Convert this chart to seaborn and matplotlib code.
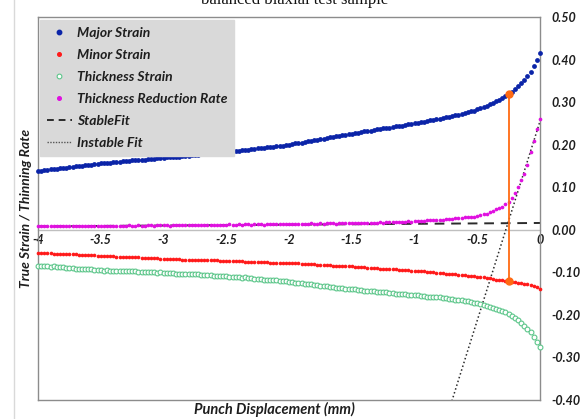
import numpy as np
import pandas as pd
import seaborn as sns
import matplotlib.pyplot as plt
from matplotlib.lines import Line2D
from matplotlib.patches import Rectangle

# ------------------------------
# data
# ------------------------------
# punch displacement (mm): one reading every 0.025 mm from -4 to 0
displacement = np.linspace(-4.0, 0.0, 161)

major_strain = [
    0.138, 0.139, 0.140, 0.141, 0.142, 0.142, 0.143, 0.144, 0.145, 0.146,
    0.147, 0.148, 0.149, 0.150, 0.151, 0.152, 0.153, 0.153, 0.154, 0.155,
    0.156, 0.157, 0.157, 0.158, 0.159, 0.159, 0.160, 0.161, 0.161, 0.162,
    0.163, 0.163, 0.164, 0.165, 0.165, 0.166, 0.167, 0.167, 0.168, 0.168,
    0.169, 0.170, 0.170, 0.171, 0.172, 0.172, 0.173, 0.174, 0.174, 0.175,
    0.176, 0.176, 0.177, 0.178, 0.178, 0.179, 0.180, 0.180, 0.181, 0.181,
    0.182, 0.183, 0.184, 0.185, 0.186, 0.187, 0.187, 0.188, 0.189, 0.190,
    0.191, 0.192, 0.193, 0.194, 0.195, 0.195, 0.196, 0.197, 0.198, 0.199,
    0.200, 0.201, 0.203, 0.204, 0.205, 0.207, 0.208, 0.209, 0.210, 0.212,
    0.213, 0.214, 0.216, 0.217, 0.218, 0.220, 0.221, 0.222, 0.223, 0.225,
    0.226, 0.227, 0.228, 0.230, 0.231, 0.232, 0.233, 0.234, 0.236, 0.237,
    0.238, 0.239, 0.240, 0.242, 0.243, 0.244, 0.245, 0.246, 0.248, 0.249,
    0.250, 0.251, 0.253, 0.254, 0.256, 0.257, 0.258, 0.260, 0.261, 0.263,
    0.264, 0.266, 0.267, 0.269, 0.270, 0.272, 0.274, 0.276, 0.278, 0.280,
    0.283, 0.286, 0.289, 0.292, 0.296, 0.299, 0.302, 0.306, 0.310, 0.314,
    0.318, 0.324, 0.330, 0.337, 0.344, 0.352, 0.361, 0.371, 0.384, 0.398,
    0.415,
]

minor_strain = [
    -0.054, -0.054, -0.055, -0.055, -0.055, -0.056, -0.056, -0.056, -0.057, -0.057,
    -0.058, -0.058, -0.058, -0.059, -0.059, -0.059, -0.060, -0.060, -0.060, -0.061,
    -0.061, -0.061, -0.062, -0.062, -0.062, -0.063, -0.063, -0.063, -0.064, -0.064,
    -0.065, -0.065, -0.065, -0.066, -0.066, -0.066, -0.067, -0.067, -0.067, -0.068,
    -0.068, -0.068, -0.069, -0.069, -0.069, -0.069, -0.070, -0.070, -0.070, -0.070,
    -0.071, -0.071, -0.071, -0.071, -0.072, -0.072, -0.072, -0.072, -0.073, -0.073,
    -0.073, -0.073, -0.074, -0.074, -0.074, -0.074, -0.075, -0.075, -0.075, -0.075,
    -0.076, -0.076, -0.076, -0.076, -0.077, -0.077, -0.077, -0.077, -0.078, -0.078,
    -0.078, -0.078, -0.079, -0.079, -0.080, -0.080, -0.080, -0.081, -0.081, -0.082,
    -0.082, -0.082, -0.083, -0.083, -0.084, -0.084, -0.084, -0.085, -0.085, -0.086,
    -0.086, -0.087, -0.087, -0.088, -0.088, -0.089, -0.089, -0.090, -0.090, -0.091,
    -0.091, -0.092, -0.092, -0.093, -0.093, -0.094, -0.094, -0.095, -0.095, -0.096,
    -0.096, -0.097, -0.097, -0.098, -0.099, -0.100, -0.100, -0.101, -0.102, -0.102,
    -0.103, -0.104, -0.104, -0.105, -0.106, -0.107, -0.107, -0.108, -0.109, -0.109,
    -0.110, -0.111, -0.112, -0.113, -0.114, -0.115, -0.117, -0.118, -0.119, -0.120,
    -0.121, -0.122, -0.123, -0.124, -0.125, -0.127, -0.128, -0.130, -0.132, -0.135,
    -0.139,
]

thickness_strain = [
    -0.084, -0.085, -0.085, -0.086, -0.087, -0.086, -0.087, -0.088, -0.088, -0.089,
    -0.089, -0.090, -0.091, -0.091, -0.092, -0.093, -0.093, -0.093, -0.094, -0.094,
    -0.095, -0.096, -0.095, -0.096, -0.097, -0.096, -0.097, -0.098, -0.097, -0.098,
    -0.098, -0.098, -0.099, -0.099, -0.099, -0.100, -0.100, -0.100, -0.101, -0.100,
    -0.101, -0.102, -0.101, -0.102, -0.103, -0.103, -0.103, -0.104, -0.104, -0.105,
    -0.105, -0.105, -0.106, -0.107, -0.106, -0.107, -0.108, -0.108, -0.108, -0.108,
    -0.109, -0.110, -0.110, -0.111, -0.112, -0.113, -0.112, -0.113, -0.114, -0.115,
    -0.115, -0.116, -0.117, -0.118, -0.118, -0.118, -0.119, -0.120, -0.120, -0.121,
    -0.122, -0.123, -0.124, -0.125, -0.125, -0.127, -0.128, -0.128, -0.129, -0.130,
    -0.131, -0.132, -0.133, -0.134, -0.134, -0.136, -0.137, -0.137, -0.138, -0.139,
    -0.140, -0.140, -0.141, -0.142, -0.143, -0.143, -0.144, -0.144, -0.146, -0.146,
    -0.147, -0.147, -0.148, -0.149, -0.150, -0.150, -0.151, -0.151, -0.153, -0.153,
    -0.154, -0.154, -0.156, -0.156, -0.157, -0.157, -0.158, -0.159, -0.159, -0.161,
    -0.161, -0.162, -0.163, -0.164, -0.164, -0.165, -0.167, -0.168, -0.169, -0.171,
    -0.173, -0.175, -0.177, -0.179, -0.182, -0.184, -0.185, -0.188, -0.191, -0.194,
    -0.197, -0.202, -0.207, -0.213, -0.219, -0.225, -0.233, -0.241, -0.252, -0.263,
    -0.276,
]

thinning_rate = [
    0.008, 0.009, 0.008, 0.008, 0.009, 0.008, 0.009, 0.009, 0.008, 0.009,
    0.009, 0.009, 0.008, 0.009, 0.009, 0.010, 0.009, 0.009, 0.009, 0.010,
    0.009, 0.010, 0.009, 0.010, 0.010, 0.009, 0.010, 0.010, 0.010, 0.011,
    0.010, 0.010, 0.011, 0.010, 0.010, 0.011, 0.011, 0.010, 0.011, 0.011,
    0.011, 0.011, 0.010, 0.011, 0.011, 0.012, 0.011, 0.011, 0.011, 0.012,
    0.011, 0.012, 0.012, 0.011, 0.012, 0.012, 0.012, 0.011, 0.012, 0.012,
    0.012, 0.013, 0.012, 0.012, 0.013, 0.012, 0.013, 0.013, 0.012, 0.013,
    0.013, 0.013, 0.012, 0.013, 0.013, 0.014, 0.013, 0.013, 0.013, 0.014,
    0.013, 0.014, 0.014, 0.013, 0.014, 0.014, 0.014, 0.015, 0.014, 0.014,
    0.015, 0.014, 0.015, 0.015, 0.015, 0.014, 0.015, 0.015, 0.016, 0.015,
    0.016, 0.015, 0.016, 0.016, 0.017, 0.016, 0.017, 0.017, 0.017, 0.018,
    0.017, 0.018, 0.018, 0.018, 0.019, 0.018, 0.019, 0.019, 0.020, 0.019,
    0.020, 0.020, 0.021, 0.021, 0.022, 0.023, 0.022, 0.023, 0.024, 0.024,
    0.025, 0.026, 0.026, 0.027, 0.027, 0.028, 0.029, 0.030, 0.030, 0.031,
    0.033, 0.035, 0.036, 0.038, 0.042, 0.045, 0.048, 0.050, 0.054, 0.060,
    0.066, 0.074, 0.086, 0.100, 0.116, 0.132, 0.152, 0.182, 0.208, 0.236,
    0.261,
]

# linear fits of the thinning rate (stable / instable part)
stable_fit_x = [-4.0, 0.0]
stable_fit_y = [0.008, 0.016]
instable_fit_x = [-0.75, 0.0]
instable_fit_y = [-0.447, 0.255]

# necking onset (intersection of the two fits)
onset_x = -0.25
onset_major = 0.318
onset_minor = -0.121

x_ticks = [-4, -3.5, -3, -2.5, -2, -1.5, -1, -0.5, 0]
x_tick_labels = ["-4", "-3.5", "-3", "-2.5", "-2", "-1.5", "-1", "-0.5", "0"]
y_ticks = [-0.4, -0.3, -0.2, -0.1, 0.0, 0.1, 0.2, 0.3, 0.4, 0.5]
y_tick_labels = ["-0.40", "-0.30", "-0.20", "-0.10", "0.00",
                 "0.10", "0.20", "0.30", "0.40", "0.50"]

df = pd.DataFrame({
    "disp": displacement,
    "major": major_strain,
    "minor": minor_strain,
    "thick": thickness_strain,
    "rate": thinning_rate,
})

BLUE = "#0B24A8"
RED = "#FF1A1A"
GREEN = "#5CC68A"
MAGENTA = "#E010E0"
ORANGE = "#FF6A13"
TXT = "#1E1E1E"

sns.set_style("white")
plt.rcParams["font.family"] = ["Lato", "DejaVu Sans"]

fig = plt.figure(figsize=(5.84, 4.19), dpi=100)
ax = fig.add_axes([38 / 584, 1 - 400 / 419, 502 / 584, 383 / 419])

# faint outer chart-area border and the title (cut at the top, as in the source)
fig.patches.append(Rectangle((14 / 584, -0.1), 1.2, 1.1 + (1 - 8 / 419),
                             transform=fig.transFigure, fill=False,
                             edgecolor="#D9D9D9", linewidth=1.0))
fig.text(0.505, 1 - 3.5 / 419, "balanced biaxial test sample",
         ha="center", va="baseline", fontsize=12,
         family="Liberation Serif", color="#111111")

# fit lines
ax.plot(stable_fit_x, stable_fit_y, color="#2B2B2B", lw=1.4,
        ls=(0, (5, 3.5)), zorder=2)
ax.plot(instable_fit_x, instable_fit_y, color="#2B2B2B", lw=1.1,
        ls=(0, (1, 1.6)), zorder=2)

# measured series
sns.scatterplot(data=df, x="disp", y="thick", ax=ax, marker="o", s=12,
                facecolor="white", edgecolor=GREEN, linewidth=0.8,
                zorder=3, clip_on=False)
sns.scatterplot(data=df, x="disp", y="minor", ax=ax, marker="o", s=7,
                color=RED, edgecolor=RED, linewidth=0, zorder=3, clip_on=False)
sns.scatterplot(data=df, x="disp", y="rate", ax=ax, marker="o", s=7,
                color=MAGENTA, edgecolor=MAGENTA, linewidth=0, zorder=4,
                clip_on=False)
sns.scatterplot(data=df, x="disp", y="major", ax=ax, marker="o", s=12,
                color=BLUE, edgecolor=BLUE, linewidth=0, zorder=4,
                clip_on=False)

# onset marker
ax.plot([onset_x, onset_x], [onset_minor, onset_major], color=ORANGE,
        lw=1.3, marker="o", ms=5, zorder=5)

ax.set_xlim(-4, 0)
ax.set_ylim(-0.4, 0.5)

# frame
for sp in ax.spines.values():
    sp.set_color("#8C8C8C")
    sp.set_linewidth(1.0)

# y ticks on the right, label on the left
ax.yaxis.tick_right()
ax.set_yticks(y_ticks, y_tick_labels)
ax.tick_params(axis="y", length=0, pad=8.5, labelsize=9, labelcolor=TXT)
for t in ax.get_yticklabels():
    t.set_fontweight("bold")
    t.set_fontstyle("italic")
ax.set_ylabel("True Strain / Thinning Rate", fontsize=10, fontweight="bold",
              fontstyle="italic", color=TXT)
ax.yaxis.set_label_position("left")
ax.yaxis.set_label_coords(-0.012, 0.5)

# x axis crosses at y = 0
ax.set_xticks([])
sec = ax.secondary_xaxis(0.4 / 0.9)
sec.set_alignment("bottom")
sec.set_xticks(x_ticks, x_tick_labels)
sec.tick_params(length=0, pad=3, labelsize=9, labelcolor=TXT)
for t in sec.get_xticklabels():
    t.set_fontweight("bold")
    t.set_fontstyle("italic")
sec.spines["bottom"].set_color("#BFBFBF")
sec.spines["bottom"].set_linewidth(1.0)

ax.set_xlabel("Punch Displacement (mm)", fontsize=10.5, fontweight="bold",
              fontstyle="italic", color=TXT)
ax.xaxis.set_label_coords(0.47, -0.006)

# legend
handles = [
    Line2D([], [], ls="", marker="o", ms=3.2, color=BLUE),
    Line2D([], [], ls="", marker="o", ms=2.6, color=RED),
    Line2D([], [], ls="", marker="o", ms=3.4, mfc="white", mec=GREEN, mew=0.8),
    Line2D([], [], ls="", marker="o", ms=2.6, color=MAGENTA),
    Line2D([], [], color="#2B2B2B", lw=1.4, ls=(0, (3.5, 2.5))),
    Line2D([], [], color="#555555", lw=1.0, ls=(0, (1, 1))),
]
labels = ["Major Strain", "Minor Strain", "Thickness Strain",
          "Thickness Reduction Rate", "StableFit", "Instable Fit"]
leg = ax.legend(handles, labels, loc="upper left",
                bbox_to_anchor=(2 / 502, 1 - 3 / 383), borderaxespad=0,
                frameon=True, fancybox=False, facecolor="#D9D9D9",
                edgecolor="#D9D9D9", framealpha=1, handlelength=1.8,
                handletextpad=0.35, labelspacing=0.72, borderpad=0.5,
                prop={"size": 10, "weight": "bold", "style": "italic"})
for t in leg.get_texts():
    t.set_color(TXT)

fig.savefig("out.png", dpi=100)
